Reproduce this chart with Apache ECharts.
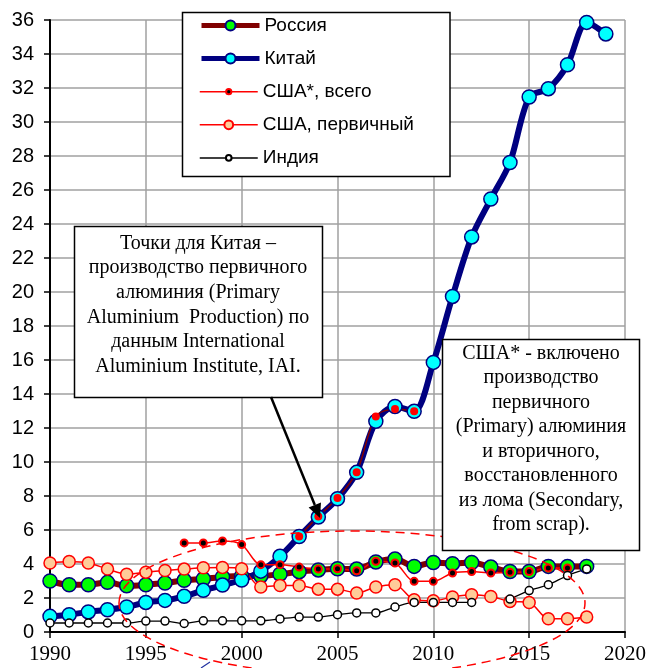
<!DOCTYPE html>
<html>
<head>
<meta charset="utf-8">
<script src="https://cdn.jsdelivr.net/npm/echarts@6/dist/echarts.min.js"></script>
<style>
  html, body { margin: 0; padding: 0; background: #fff; }
  #chart { width: 649px; height: 668px; }
</style>
</head>
<body>
<div id="chart"></div>
<script>
// Aluminium production, million tonnes per year
const years = [1990, 1991, 1992, 1993, 1994, 1995, 1996, 1997, 1998, 1999,
               2000, 2001, 2002, 2003, 2004, 2005, 2006, 2007, 2008, 2009,
               2010, 2011, 2012, 2013, 2014, 2015, 2016, 2017, 2018, 2019];

const russia = [3.0, 2.78, 2.78, 2.92, 2.72, 2.78, 2.88, 3.04, 3.12, 3.24,
                3.3, 3.3, 3.4, 3.55, 3.65, 3.72, 3.7, 4.12, 4.29, 3.86,
                4.09, 4.02, 4.09, 3.82, 3.56, 3.56, 3.86, 3.86, 3.86, null];

const china = [0.92, 1.02, 1.18, 1.31, 1.47, 1.74, 1.86, 2.1, 2.45, 2.76,
               3.06, 3.58, 4.45, 5.62, 6.76, 7.84, 9.39, 12.39, 13.27, 12.98,
               15.86, 19.74, 23.24, 25.47, 27.62, 31.47, 31.96, 33.37, 35.86, 35.18];

// second China series (2003–2009)
const chinaAltYears = [2003, 2004, 2005, 2006, 2007, 2008, 2009];
const chinaAlt = [5.62, 6.8, 7.88, 9.39, 12.68, 13.12, 12.98];

// USA, primary + secondary (1997–2017)
const usaTotalYears = [1997, 1998, 1999, 2000, 2001, 2002, 2003, 2004, 2005, 2006,
                       2007, 2008, 2009, 2010, 2011, 2012, 2013, 2014, 2015, 2016, 2017];
const usaTotal = [5.24, 5.24, 5.35, 5.14, 3.96, 3.96, 3.82, 3.7, 3.72, 3.6,
                  4.16, 4.06, 2.98, 2.98, 3.47, 3.56, 3.47, 3.51, 3.56, 3.76, 3.76];

const usaPrimary = [4.06, 4.15, 4.06, 3.7, 3.4, 3.52, 3.62, 3.7, 3.78, 3.8,
                    3.72, 2.65, 2.74, 2.74, 2.52, 2.52, 2.29, 2.65, 2.78, 1.9,
                    1.84, 2.06, 2.19, 2.09, 1.8, 1.74, 0.78, 0.78, 0.88, null];

const india = [0.53, 0.53, 0.53, 0.53, 0.53, 0.64, 0.64, 0.5, 0.66, 0.66,
               0.66, 0.66, 0.77, 0.88, 0.88, 1.02, 1.12, 1.12, 1.47, 1.74,
               1.74, 1.74, 1.74, null, 1.94, 2.44, 2.78, 3.32, 3.71, null];

const xTicks = { min: 1990, max: 2020, step: 5 };
const yTicks = { min: 0, max: 36, step: 2 };

const legendNames = ['Россия', 'Китай', 'США*, всего', 'США, первичный', 'Индия'];

const chinaNote = ['Точки для Китая –', 'производство первичного', 'алюминия (Primary',
                   'Aluminium  Production) по', 'данным International', 'Aluminium Institute, IAI.'];
const usaNote = ['США* - включено', 'производство', 'первичного', '(Primary) алюминия',
                 'и вторичного,', 'восстановленного', 'из лома (Secondary,', 'from scrap).'];

const pairs = (xs, vs) => xs.map((x, i) => [x, vs[i]]);

const SANS = 'Arial, "Liberation Sans", sans-serif';
const SERIF = '"Times New Roman", "Liberation Serif", serif';

// one legend per entry so each keeps its own marker size
const legendMarker = [12.5, 12.5, 6.5, 11, 7];
const legendLine = [5, 5, 1.5, 1.5, 1.5];
const legends = legendNames.map((name, i) => ({
  orient: 'vertical',
  left: 199, top: 15.5 + i * 33.1,
  padding: 0,
  itemWidth: 58, itemHeight: legendMarker[i], itemGap: 0,
  textStyle: { color: '#000', fontFamily: SANS, fontSize: 19, lineHeight: 20 },
  lineStyle: { width: legendLine[i] },
  data: [name],
  selectedMode: false,
  z: 22
}));

const chart = echarts.init(document.getElementById('chart'), null, { renderer: 'canvas' });

chart.setOption({
  animation: false,
  backgroundColor: '#ffffff',
  grid: { left: 50, right: 22, top: 20, bottom: 36 },
  xAxis: {
    type: 'value',
    min: xTicks.min, max: xTicks.max, interval: xTicks.step,
    axisLine: { lineStyle: { color: '#000', width: 2 } },
    axisTick: { length: 6, lineStyle: { color: '#000', width: 1.5 } },
    axisLabel: { color: '#000', fontFamily: SERIF, fontSize: 21, margin: 12,
                 formatter: v => String(v) },
    splitLine: { show: true, lineStyle: { color: '#a0a0a0', width: 1.5 } }
  },
  yAxis: {
    type: 'value',
    min: yTicks.min, max: yTicks.max, interval: yTicks.step,
    axisLine: { show: true, lineStyle: { color: '#000', width: 2 } },
    axisTick: { show: true, length: 6, lineStyle: { color: '#000', width: 1.5 } },
    axisLabel: { color: '#000', fontFamily: SANS, fontSize: 20, margin: 16 },
    splitLine: { show: true, lineStyle: { color: '#a0a0a0', width: 1.5 } }
  },
  legend: legends,
  series: [
    {
      name: 'Россия', type: 'line', smooth: 0.3,
      data: pairs(years, russia),
      symbol: 'circle', symbolSize: 14,
      lineStyle: { color: '#800000', width: 6 },
      itemStyle: { color: '#00ff00', borderColor: '#000080', borderWidth: 1.5 },
      emphasis: { disabled: true }
    },
    {
      name: 'Китай', type: 'line', smooth: 0.3,
      data: pairs(years, china),
      symbol: 'circle', symbolSize: 14,
      lineStyle: { color: '#000080', width: 6 },
      itemStyle: { color: '#00ffff', borderColor: '#000080', borderWidth: 1.5 },
      emphasis: { disabled: true }
    },
    {
      name: 'Китай, доп.', type: 'line', smooth: 0.3,
      data: pairs(chinaAltYears, chinaAlt),
      symbol: 'circle', symbolSize: 8,
      lineStyle: { color: '#800000', width: 1.5 },
      itemStyle: { color: '#ff0000', borderWidth: 0 },
      emphasis: { disabled: true }
    },
    {
      name: 'США*, всего', type: 'line', smooth: 0.3,
      data: pairs(usaTotalYears, usaTotal),
      symbol: 'circle', symbolSize: 7,
      lineStyle: { color: '#ff0000', width: 1.5 },
      itemStyle: { color: '#000000', borderColor: '#ff0000', borderWidth: 2 },
      emphasis: { disabled: true }
    },
    {
      name: 'США, первичный', type: 'line', smooth: 0.3,
      data: pairs(years, usaPrimary),
      symbol: 'circle', symbolSize: 12,
      lineStyle: { color: '#ff0000', width: 1.5 },
      itemStyle: { color: '#ffcc99', borderColor: '#ff0000', borderWidth: 1.5 },
      emphasis: { disabled: true }
    },
    {
      name: 'Индия', type: 'line', smooth: 0.3, connectNulls: false,
      data: pairs(years, india),
      symbol: 'circle', symbolSize: 8,
      lineStyle: { color: '#000000', width: 1.3 },
      itemStyle: { color: '#ffffff', borderColor: '#000000', borderWidth: 1.5 },
      emphasis: { disabled: true }
    }
  ],
  graphic: [
    {
      type: 'rect', z: 15, silent: true,
      shape: { x: 182.5, y: 12.5, width: 267.5, height: 164 },
      style: { fill: '#ffffff', stroke: '#000', lineWidth: 1.5 }
    },
    {
      type: 'ellipse', z: 10, silent: true,
      shape: { cx: 352, cy: 603, rx: 233, ry: 72 },
      style: { fill: 'none', stroke: '#ff0000', lineWidth: 1.5, lineDash: [9, 6] }
    },
    {
      type: 'line', z: 10, silent: true,
      shape: { x1: 201, y1: 668, x2: 210, y2: 662 },
      style: { stroke: '#1f2f9f', lineWidth: 1.2 }
    },
    {
      type: 'rect', z: 30, silent: true,
      shape: { x: 74.5, y: 226.5, width: 248, height: 171 },
      style: { fill: '#ffffff', stroke: '#000', lineWidth: 1.5 }
    },
    {
      type: 'text', z: 31, silent: true,
      x: 198, y: 231,
      style: {
        text: chinaNote.join('\n'),
        font: '20px ' + SERIF, lineHeight: 24.7,
        fill: '#000', align: 'center', verticalAlign: 'top'
      }
    },
    {
      type: 'rect', z: 30, silent: true,
      shape: { x: 442.5, y: 339.5, width: 197, height: 211 },
      style: { fill: '#ffffff', stroke: '#000', lineWidth: 1.5 }
    },
    {
      type: 'text', z: 31, silent: true,
      x: 541, y: 341,
      style: {
        text: usaNote.join('\n'),
        font: '20px ' + SERIF, lineHeight: 24.5,
        fill: '#000', align: 'center', verticalAlign: 'top'
      }
    },
    {
      type: 'line', z: 32, silent: true,
      shape: { x1: 271, y1: 397, x2: 314.8, y2: 505 },
      style: { stroke: '#000', lineWidth: 2.5 }
    },
    {
      type: 'polygon', z: 32, silent: true,
      shape: { points: [[320, 518], [321, 502.5], [308.6, 507.5]] },
      style: { fill: '#000' }
    }
  ]
});
</script>
</body>
</html>
